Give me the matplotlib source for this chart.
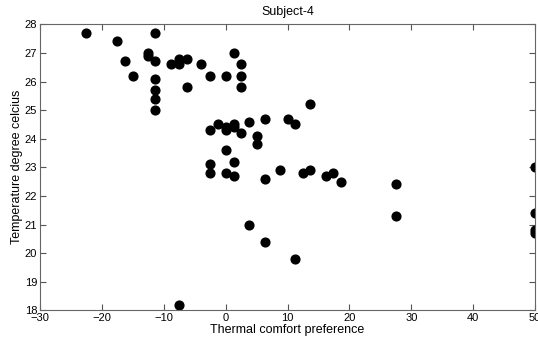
import matplotlib
matplotlib.use("Agg")
import matplotlib.pyplot as plt

pref = [-22.5, -17.6, -16.3, -15.0, -12.6, -12.5, -11.4, -11.4, -11.4, -11.4, -11.4, -11.4,
        -8.8, -7.6, -7.6, -6.3, -6.3, -3.9, -2.5, 0.0, 1.3, 2.5, 2.5, 2.5,
        -2.5, -1.2, 0.0, 0.0, 1.3, 1.3, 2.5, 3.7, 5.0, 5.0, 6.3, 10.0, 11.2, 13.7,
        0.0, 1.3, -2.5, -2.5, 0.0, 1.3, 6.3, 8.8, 12.5, 13.7, 16.2, 17.4, 18.7,
        27.6, 27.6, 3.8, 6.3, 11.2, -7.6, 50.0, 50.0, 50.0, 50.0]
temp = [27.7, 27.4, 26.7, 26.2, 27.0, 26.9, 27.7, 26.7, 26.1, 25.7, 25.4, 25.0,
        26.6, 26.8, 26.6, 26.8, 25.8, 26.6, 26.2, 26.2, 27.0, 26.6, 26.2, 25.8,
        24.3, 24.5, 24.4, 24.3, 24.5, 24.4, 24.2, 24.6, 24.1, 23.8, 24.7, 24.7, 24.5, 25.2,
        23.6, 23.2, 23.1, 22.8, 22.8, 22.7, 22.6, 22.9, 22.8, 22.9, 22.7, 22.8, 22.5,
        22.4, 21.3, 21.0, 20.4, 19.8, 18.2, 23.0, 21.4, 20.8, 20.7]

xticks = [-30, -20, -10, 0, 10, 20, 30, 40, 50]
yticks = [18, 19, 20, 21, 22, 23, 24, 25, 26, 27, 28]

plt.rcParams['font.family'] = ['Liberation Sans', 'DejaVu Sans']

fig = plt.figure(figsize=(5.38, 3.42), dpi=100)
ax = fig.add_axes([40/538, 1-310.3/342, 495/538, (310.3-24.3)/342])
ax.plot(pref, temp, 'o', color='black', markersize=6.3, linestyle='none')
ax.set_xlim(-30, 50)
ax.set_ylim(18, 28)
ax.set_xticks(xticks)
ax.set_yticks(yticks)
ax.tick_params(direction='in', length=4, width=0.8, color='#555555', labelsize=8,
               top=True, right=True, pad=2)
for s in ax.spines.values():
    s.set_color('#666666')
    s.set_linewidth(0.8)
ax.set_xlabel('Thermal comfort preference', fontsize=9, labelpad=1)
ax.set_ylabel('Temperature degree celcius', fontsize=9, labelpad=1)
ax.set_title('Subject-4', fontsize=9, pad=7)
fig.savefig('out.png', dpi=100)
